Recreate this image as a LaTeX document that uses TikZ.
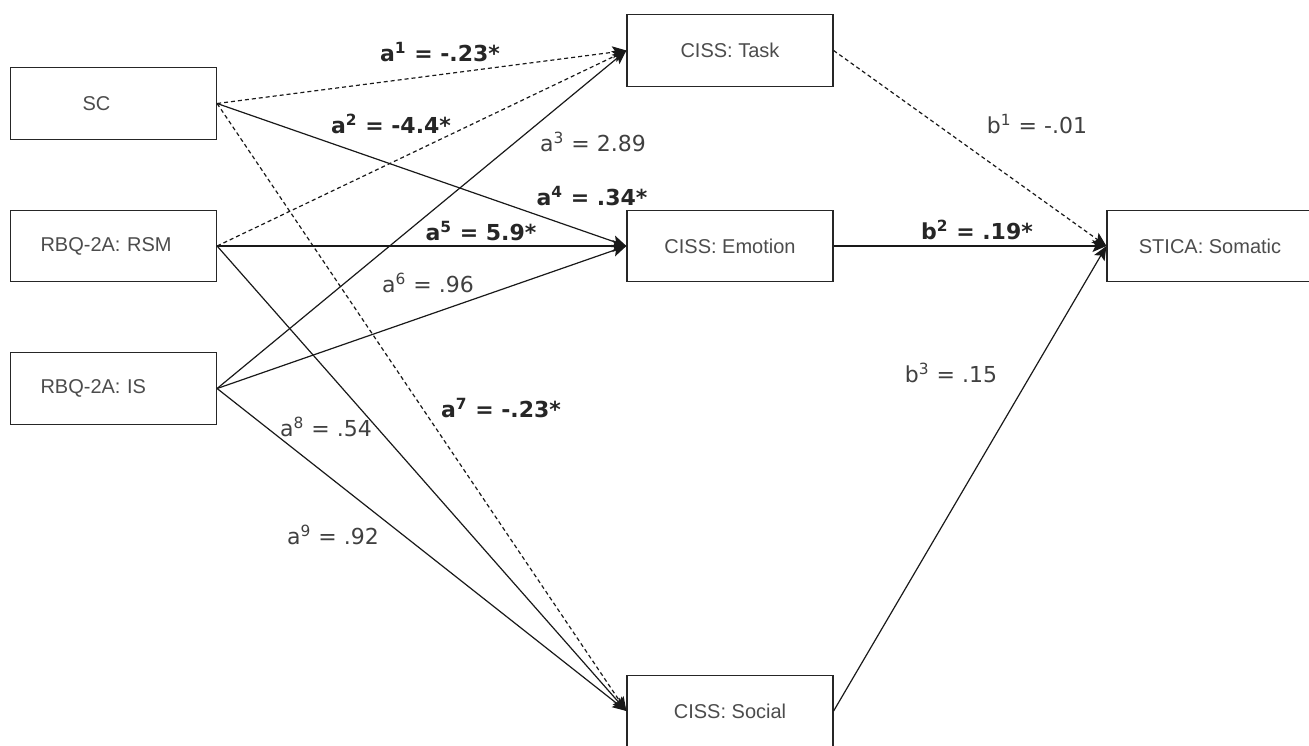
\documentclass[tikz,border=0pt]{standalone}
\usepackage{fontspec}
\setmainfont{Liberation Sans}
\newfontfamily\coeffont{DejaVu Sans}
\usetikzlibrary{arrows.meta}

\tikzset{
	var/.style={draw=black!85, line width=0.6pt, minimum width=103pt, minimum height=35.75pt,
		inner sep=0pt, text=black!70, font=\fontsize{10}{12}\selectfont},
	src/.style={var, text width=73pt, align=left, inner xsep=15pt},
	path/.style={-{Stealth[length=7pt, width=6pt, inset=1.5pt]}, line width=0.6pt, draw=black!90},
	neg/.style={path, dash pattern=on 2pt off 1.5pt},
	sig/.style={font=\coeffont\bfseries\fontsize{11}{13}\selectfont, text=black!85},
	ns/.style={font=\coeffont\fontsize{11}{13}\selectfont, text=black!75}
}

\begin{document}
\begin{tikzpicture}[x=0.5pt, y=-0.5pt]
\useasboundingbox (0,0) rectangle (1309,745);

% predictors
\node[src] (sc) at (113.5,103.5) {\hspace*{21pt}SC};
\node[src] (rsm) at (113.5,246) {RBQ-2A: RSM};
\node[src] (is) at (113.5,388.5) {RBQ-2A: IS};

% mediators
\node[var] (task) at (730,50.5) {CISS: Task};
\node[var] (emotion) at (730,246) {CISS: Emotion};
\node[var] (social) at (730,711) {CISS: Social};

% outcome
\node[var] (somatic) at (1210,246) {STICA: Somatic};

% a paths
\draw[neg] (sc.east) -- (task.west);
\draw[path] (sc.east) -- (emotion.west);
\draw[neg] (sc.east) -- (social.west);
\draw[neg] (rsm.east) -- (task.west);
\draw[path] (rsm.east) -- (emotion.west);
\draw[path] (rsm.east) -- (social.west);
\draw[path] (is.east) -- (task.west);
\draw[path] (is.east) -- (emotion.west);
\draw[path] (is.east) -- (social.west);

% b paths
\draw[neg] (task.east) -- (somatic.west);
\draw[path] (emotion.east) -- (somatic.west);
\draw[path] (social.east) -- (somatic.west);

% coefficients
\node[sig] (ca1) at (440,52) {a\textsuperscript{1} = -.23*};
\node[sig] (ca2) at (391,124) {a\textsuperscript{2} = -4.4*};
\node[ns] (ca3) at (593,142) {a\textsuperscript{3} = 2.89};
\node[sig] (ca4) at (592,196) {a\textsuperscript{4} = .34*};
\node[sig] (ca5) at (481,231) {a\textsuperscript{5} = 5.9*};
\node[ns] (ca6) at (428,283) {a\textsuperscript{6} = .96};
\node[sig] (ca7) at (501,408) {a\textsuperscript{7} = -.23*};
\node[ns] (ca8) at (326,427) {a\textsuperscript{8} = .54};
\node[ns] (ca9) at (333,535) {a\textsuperscript{9} = .92};
\node[ns] (cb1) at (1037,124) {b\textsuperscript{1} = -.01};
\node[sig] (cb2) at (977,230) {b\textsuperscript{2} = .19*};
\node[ns] (cb3) at (951,373) {b\textsuperscript{3} = .15};
\end{tikzpicture}
\end{document}
